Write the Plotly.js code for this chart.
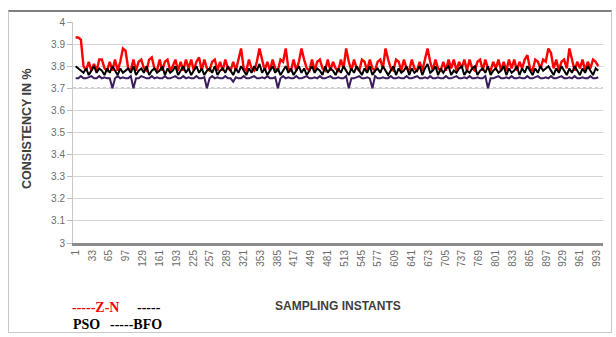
<!DOCTYPE html>
<html>
<head>
<meta charset="utf-8">
<script src="https://cdn.plot.ly/plotly-3.0.1.min.js"></script>
<style>
html,body{margin:0;padding:0;background:#fff;}
#wrap{position:relative;width:616px;height:337px;}
#chart{width:616px;height:337px;}
#frame{position:absolute;left:8px;top:10px;width:604px;height:323px;border:1px solid #c8c8c8;border-top:2px solid #7f7f7f;pointer-events:none;box-sizing:border-box;}
</style>
</head>
<body>
<div id="wrap"><div id="chart"></div><div id="frame"></div></div>
<script>
// sampling instants step (every 5th instant)
const STEP = 5;
const tickLabels = [1,33,65,97,129,161,193,225,257,289,321,353,385,417,449,481,513,545,577,609,641,673,705,737,769,801,833,865,897,929,961,993];

const zn = [
 3.93,3.93,3.92,3.80,3.78,3.82,3.78,3.81,3.78,3.83,3.83,3.79,3.78,3.82,3.78,3.83,3.78,3.82,3.88,3.87,
 3.79,3.78,3.83,3.78,3.82,3.83,3.79,3.78,3.83,3.84,3.79,3.78,3.83,3.78,3.82,3.83,3.78,3.80,3.83,3.78,
 3.82,3.78,3.83,3.79,3.83,3.78,3.82,3.84,3.78,3.83,3.79,3.78,3.82,3.83,3.78,3.82,3.78,3.83,3.79,3.78,
 3.82,3.78,3.83,3.88,3.79,3.78,3.83,3.79,3.78,3.82,3.88,3.83,3.78,3.82,3.78,3.83,3.79,3.78,3.83,3.82,
 3.88,3.79,3.78,3.83,3.78,3.82,3.88,3.83,3.79,3.78,3.83,3.78,3.82,3.83,3.79,3.78,3.83,3.78,3.82,3.79,
 3.78,3.83,3.79,3.88,3.82,3.78,3.83,3.79,3.78,3.83,3.82,3.78,3.83,3.79,3.78,3.82,3.83,3.79,3.88,3.83,
 3.79,3.78,3.83,3.82,3.78,3.83,3.79,3.78,3.83,3.79,3.78,3.82,3.78,3.83,3.88,3.82,3.78,3.83,3.79,3.78,
 3.82,3.78,3.83,3.79,3.83,3.78,3.82,3.79,3.83,3.78,3.83,3.79,3.78,3.82,3.83,3.78,3.83,3.79,3.78,3.82,
 3.79,3.83,3.78,3.82,3.78,3.83,3.79,3.83,3.78,3.82,3.79,3.83,3.85,3.79,3.78,3.83,3.82,3.79,3.83,3.82,
 3.88,3.86,3.79,3.83,3.78,3.82,3.83,3.79,3.88,3.83,3.78,3.82,3.79,3.83,3.78,3.82,3.79,3.83,3.82,3.80
];

const pso = [
 3.80,3.79,3.78,3.77,3.79,3.76,3.78,3.80,3.77,3.79,3.78,3.76,3.79,3.77,3.80,3.78,3.76,3.79,3.77,3.78,
 3.79,3.77,3.80,3.76,3.78,3.79,3.77,3.80,3.76,3.78,3.79,3.77,3.78,3.80,3.76,3.79,3.77,3.78,3.80,3.76,
 3.78,3.80,3.77,3.79,3.76,3.78,3.80,3.77,3.79,3.76,3.78,3.79,3.77,3.80,3.76,3.78,3.79,3.77,3.80,3.78,
 3.76,3.79,3.77,3.80,3.78,3.76,3.79,3.77,3.80,3.78,3.81,3.77,3.79,3.76,3.78,3.80,3.77,3.79,3.76,3.78,
 3.80,3.77,3.79,3.76,3.78,3.80,3.77,3.79,3.76,3.78,3.80,3.77,3.79,3.78,3.76,3.80,3.77,3.79,3.78,3.76,
 3.79,3.77,3.80,3.78,3.76,3.79,3.77,3.80,3.78,3.76,3.79,3.77,3.80,3.76,3.78,3.79,3.77,3.80,3.78,3.76,
 3.78,3.80,3.76,3.79,3.77,3.78,3.80,3.76,3.79,3.77,3.78,3.80,3.76,3.79,3.81,3.77,3.78,3.80,3.76,3.79,
 3.77,3.79,3.80,3.76,3.78,3.77,3.79,3.80,3.76,3.78,3.77,3.79,3.80,3.76,3.78,3.79,3.77,3.80,3.76,3.78,
 3.79,3.77,3.78,3.80,3.76,3.79,3.77,3.78,3.80,3.76,3.79,3.77,3.80,3.78,3.76,3.79,3.77,3.80,3.78,3.79,
 3.80,3.78,3.76,3.79,3.77,3.80,3.78,3.76,3.79,3.77,3.80,3.78,3.76,3.79,3.77,3.80,3.78,3.76,3.79,3.78
];

const bfo = [
 3.745,3.745,3.755,3.745,3.745,3.75,3.755,3.745,3.745,3.755,3.745,3.75,3.745,3.745,3.70,3.745,3.755,3.745,3.75,3.745,
 3.745,3.755,3.70,3.745,3.745,3.755,3.75,3.745,3.745,3.755,3.745,3.75,3.745,3.745,3.755,3.745,3.745,3.75,3.755,3.745,
 3.745,3.755,3.745,3.75,3.745,3.745,3.755,3.745,3.745,3.75,3.70,3.745,3.755,3.745,3.75,3.745,3.745,3.755,3.745,3.745,
 3.73,3.75,3.745,3.745,3.755,3.745,3.745,3.75,3.755,3.745,3.745,3.75,3.745,3.755,3.745,3.745,3.75,3.70,3.745,3.755,
 3.745,3.75,3.745,3.745,3.755,3.745,3.745,3.75,3.755,3.745,3.745,3.75,3.745,3.755,3.745,3.745,3.75,3.755,3.745,3.745,
 3.75,3.745,3.745,3.755,3.70,3.745,3.745,3.75,3.755,3.745,3.745,3.75,3.745,3.70,3.755,3.745,3.745,3.75,3.745,3.745,
 3.755,3.745,3.745,3.75,3.745,3.745,3.755,3.745,3.745,3.75,3.755,3.745,3.745,3.75,3.745,3.755,3.745,3.745,3.75,3.745,
 3.745,3.755,3.745,3.745,3.75,3.755,3.745,3.745,3.75,3.745,3.755,3.745,3.745,3.75,3.745,3.745,3.755,3.70,3.745,3.745,
 3.75,3.755,3.745,3.745,3.75,3.745,3.755,3.745,3.745,3.75,3.745,3.745,3.755,3.745,3.745,3.75,3.755,3.745,3.745,3.75,
 3.745,3.755,3.745,3.745,3.75,3.755,3.745,3.745,3.75,3.745,3.755,3.745,3.745,3.75,3.745,3.745,3.755,3.745,3.745,3.75
];

const instants = zn.map((_, i) => 1 + STEP * i);

const traces = [
  {x: instants, y: zn, name: 'Z-N', mode: 'lines', line: {color: '#ff0000', width: 2.4}},
  {x: instants, y: pso, name: 'PSO', mode: 'lines', line: {color: '#000000', width: 2}},
  {x: instants, y: bfo, name: 'BFO', mode: 'lines', line: {color: '#3a1d5c', width: 2}}
];

const tickFont = {family: 'Liberation Sans, Arial, sans-serif', size: 10, color: '#6b6b6b'};

const layout = {
  width: 616, height: 337,
  margin: {l: 73, r: 13, t: 22, b: 94},
  paper_bgcolor: '#ffffff', plot_bgcolor: '#ffffff',
  showlegend: false,
  xaxis: {
    range: [-4, 1005],
    tickmode: 'array', tickvals: tickLabels, ticktext: tickLabels.map(String),
    tickangle: -90, tickfont: tickFont,
    showgrid: false, zeroline: false,
    showline: true, linecolor: '#8c8c8c', linewidth: 3,
    ticks: '', fixedrange: true
  },
  yaxis: {
    range: [3, 4.0], dtick: 0.1, tick0: 3,
    tickfont: tickFont,
    showgrid: true, gridcolor: '#d6d6d6', gridwidth: 1,
    zeroline: false, showline: true, linecolor: '#c8c8c8', linewidth: 1,
    ticks: 'outside', ticklen: 5, tickcolor: '#bdbdbd', fixedrange: true
  },
  shapes: [
    {type: 'line', xref: 'paper', x0: 0, x1: 1, yref: 'y', y0: 3.7, y1: 3.7, layer: 'below',
     line: {color: '#ffffff', width: 3}},
    {type: 'line', xref: 'paper', x0: 0, x1: 1, yref: 'y', y0: 3.7, y1: 3.7, layer: 'below',
     line: {color: '#9a9fb4', width: 1.5, dash: 'dot'}}
  ],
  annotations: [
    {text: '<b>CONSISTENCY IN %</b>', xref: 'paper', yref: 'paper', x: -0.087, y: 0.52,
     textangle: -90, showarrow: false, xanchor: 'center', yanchor: 'middle',
     font: {family: 'Liberation Sans, Arial, sans-serif', size: 12.5, color: '#404040'}},
    {text: '<b>SAMPLING INSTANTS</b>', xref: 'paper', yref: 'paper', x: 0.5, y: -0.285,
     showarrow: false, xanchor: 'center', yanchor: 'middle',
     font: {family: 'Liberation Sans, Arial, sans-serif', size: 12, color: '#404040'}},
    {text: '<b>-----Z-N</b>', xref: 'paper', yref: 'paper', x: -0.006, y: -0.294,
     showarrow: false, xanchor: 'left', yanchor: 'middle',
     font: {family: 'Liberation Serif, Times New Roman, serif', size: 14, color: '#ff0000'}},
    {text: '<b>-----</b>', xref: 'paper', yref: 'paper', x: 0.117, y: -0.294,
     showarrow: false, xanchor: 'left', yanchor: 'middle',
     font: {family: 'Liberation Serif, Times New Roman, serif', size: 14, color: '#000000'}},
    {text: '<b>PSO</b>', xref: 'paper', yref: 'paper', x: -0.004, y: -0.371,
     showarrow: false, xanchor: 'left', yanchor: 'middle',
     font: {family: 'Liberation Serif, Times New Roman, serif', size: 14, color: '#000000'}},
    {text: '<b>-----BFO</b>', xref: 'paper', yref: 'paper', x: 0.066, y: -0.371,
     showarrow: false, xanchor: 'left', yanchor: 'middle',
     font: {family: 'Liberation Serif, Times New Roman, serif', size: 14, color: '#000000'}}
  ]
};

Plotly.newPlot('chart', traces, layout, {displayModeBar: false, staticPlot: true});
</script>
</body>
</html>
